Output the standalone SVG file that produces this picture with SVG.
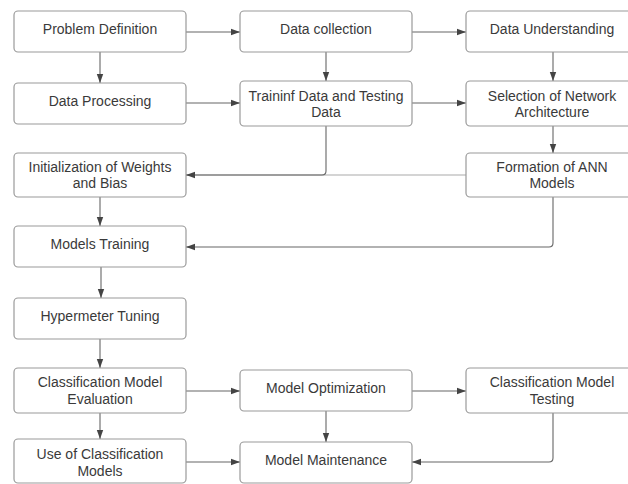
<svg xmlns="http://www.w3.org/2000/svg" width="628" height="484" viewBox="0 0 628 484">
<style>
.box{fill:#fff;stroke:#9a9a9a;stroke-width:1.2}
.t{font-family:"Liberation Sans",Arial,sans-serif;font-size:14px;fill:#3a3a3a;text-anchor:middle}
.c{fill:none;stroke:#666;stroke-width:1.1}
.cl{fill:none;stroke:#aaa;stroke-width:1.1}
</style>
<defs>
<marker id="ah" markerUnits="userSpaceOnUse" markerWidth="10" markerHeight="8" refX="9" refY="4" orient="auto">
<path d="M0,0.8 L9,4 L0,7.2 Z" fill="#444"/>
</marker>
</defs>
<rect width="628" height="484" fill="#fff"/>
<g id="connectors">
<path class="c" d="M186,32 H240" marker-end="url(#ah)"/>
<path class="c" d="M412,32 H466" marker-end="url(#ah)"/>
<path class="c" d="M100,52 V83" marker-end="url(#ah)"/>
<path class="c" d="M326,52 V81" marker-end="url(#ah)"/>
<path class="c" d="M553,52 V81" marker-end="url(#ah)"/>
<path class="c" d="M186,103 H240" marker-end="url(#ah)"/>
<path class="c" d="M412,103 H466" marker-end="url(#ah)"/>
<path class="cl" d="M466,175 H186"/>
<path class="c" d="M326,126 V171 Q326,175 322,175 H186" marker-end="url(#ah)"/>
<path class="c" d="M553,126 V153" marker-end="url(#ah)"/>
<path class="c" d="M100,197 V226" marker-end="url(#ah)"/>
<path class="c" d="M553,197 V243 Q553,247 549,247 H186" marker-end="url(#ah)"/>
<path class="c" d="M101,267 V298" marker-end="url(#ah)"/>
<path class="c" d="M100,339 V368" marker-end="url(#ah)"/>
<path class="c" d="M186,391 H240" marker-end="url(#ah)"/>
<path class="c" d="M412,391 H466" marker-end="url(#ah)"/>
<path class="c" d="M100,413 V439" marker-end="url(#ah)"/>
<path class="c" d="M326,411 V442" marker-end="url(#ah)"/>
<path class="c" d="M186,462 H240" marker-end="url(#ah)"/>
<path class="c" d="M553,413 V458 Q553,462 549,462 H412" marker-end="url(#ah)"/>
</g>
<g id="n1"><rect class="box" x="14" y="11" width="172" height="41" rx="4"/><text class="t" x="100" y="34">Problem Definition</text></g>
<g id="n2"><rect class="box" x="240" y="11" width="172" height="41" rx="4"/><text class="t" x="326" y="34">Data collection</text></g>
<g id="n3"><rect class="box" x="466" y="11" width="172" height="41" rx="4"/><text class="t" x="552" y="34">Data Understanding</text></g>
<g id="n4"><rect class="box" x="14" y="83" width="172" height="41" rx="4"/><text class="t" x="100" y="106">Data Processing</text></g>
<g id="n5"><rect class="box" x="240" y="81" width="172" height="45" rx="4"/><text class="t" x="326" y="101">Traininf Data and Testing</text><text class="t" x="326" y="117">Data</text></g>
<g id="n6"><rect class="box" x="466" y="81" width="172" height="45" rx="4"/><text class="t" x="552" y="101">Selection of Network</text><text class="t" x="552" y="117">Architecture</text></g>
<g id="n7"><rect class="box" x="14" y="153" width="172" height="44" rx="4"/><text class="t" x="100" y="172">Initialization of Weights</text><text class="t" x="100" y="188">and Bias</text></g>
<g id="n8"><rect class="box" x="466" y="153" width="172" height="44" rx="4"/><text class="t" x="552" y="172">Formation of ANN</text><text class="t" x="552" y="188">Models</text></g>
<g id="n9"><rect class="box" x="14" y="226" width="172" height="41" rx="4"/><text class="t" x="100" y="249">Models Training</text></g>
<g id="n10"><rect class="box" x="14" y="298" width="172" height="41" rx="4"/><text class="t" x="100" y="321">Hypermeter Tuning</text></g>
<g id="n11"><rect class="box" x="14" y="368" width="172" height="45" rx="4"/><text class="t" x="100" y="387">Classification Model</text><text class="t" x="100" y="404">Evaluation</text></g>
<g id="n12"><rect class="box" x="240" y="370" width="172" height="41" rx="4"/><text class="t" x="326" y="393">Model Optimization</text></g>
<g id="n13"><rect class="box" x="466" y="368" width="172" height="45" rx="4"/><text class="t" x="552" y="387">Classification Model</text><text class="t" x="552" y="404">Testing</text></g>
<g id="n14"><rect class="box" x="14" y="439" width="172" height="44" rx="4"/><text class="t" x="100" y="459">Use of Classification</text><text class="t" x="100" y="476">Models</text></g>
<g id="n15"><rect class="box" x="240" y="442" width="172" height="41" rx="4"/><text class="t" x="326" y="465">Model Maintenance</text></g>
</svg>
